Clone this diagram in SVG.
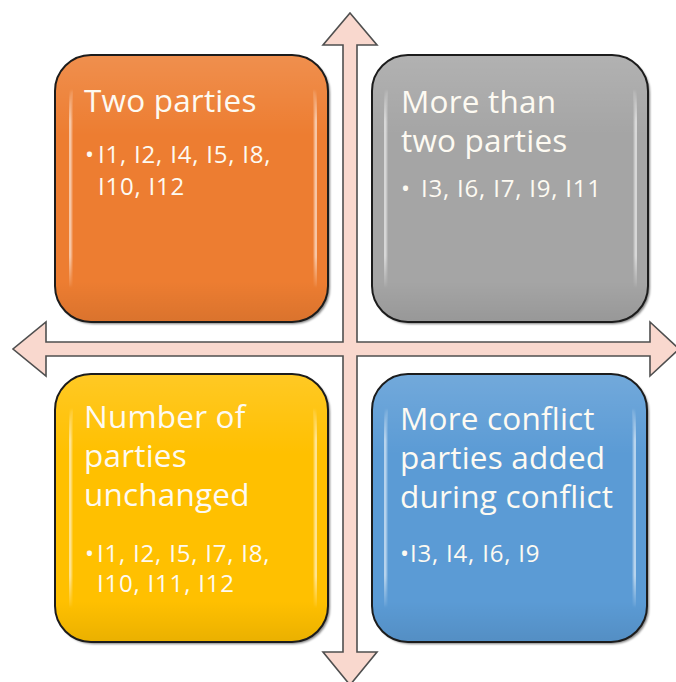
<svg xmlns="http://www.w3.org/2000/svg" width="676" height="682" viewBox="0 0 676 682">
  <defs>
    <style>
      .cross { fill: #f9d8ce; stroke: #4f4f4f; stroke-width: 1.6; stroke-linejoin: miter; }
      .shadow { fill: #000; opacity: 0.5; }
      .frame { stroke: #1c1c1c; stroke-width: 2; }
      .sheen { fill: url(#sheen); }
      .glint { fill: none; stroke: url(#glintFade); stroke-width: 3; stroke-linecap: round; filter: url(#soft); }
      .title { font-family: "Open Sans", "Noto Sans", sans-serif; font-size: 31.5px; letter-spacing: 0.2px; fill: #fdfaf2; }
      .items { font-family: "Open Sans", "Noto Sans", sans-serif; font-size: 24px; letter-spacing: 0.8px; fill: #fdfaf2; }
    </style>
    <linearGradient id="sheen" x1="0" y1="0" x2="0" y2="1">
      <stop offset="0" stop-color="#fff" stop-opacity="0.14"/>
      <stop offset="0.3" stop-color="#fff" stop-opacity="0"/>
      <stop offset="0.85" stop-color="#000" stop-opacity="0"/>
      <stop offset="1" stop-color="#000" stop-opacity="0.08"/>
    </linearGradient>
    <linearGradient id="glintFade" gradientUnits="objectBoundingBox" x1="0" y1="0" x2="0" y2="1">
      <stop offset="0" stop-color="#fff" stop-opacity="0.15"/>
      <stop offset="0.15" stop-color="#fff" stop-opacity="0.75"/>
      <stop offset="0.85" stop-color="#fff" stop-opacity="0.75"/>
      <stop offset="1" stop-color="#fff" stop-opacity="0.1"/>
    </linearGradient>
    <filter id="soft" x="-50%" y="-10%" width="200%" height="120%">
      <feGaussianBlur stdDeviation="0.9"/>
    </filter>
    <filter id="shadowBlur" x="-10%" y="-10%" width="120%" height="120%">
      <feGaussianBlur stdDeviation="1.2"/>
    </filter>
  </defs>

  <rect width="676" height="682" fill="#ffffff"/>

  <!-- four-way axis cross behind the quadrants -->
  <g id="connectors">
    <path class="cross" d="M350,13 L377,45 L357,45 L357,342 L650,342 L650,322 L679,349 L650,376 L650,356 L357,356 L357,652 L377,652 L350,685 L323,652 L343,652 L343,356 L46,356 L46,376 L13,349 L46,322 L46,342 L343,342 L343,45 L323,45 Z"/>
  </g>

  <!-- top-left quadrant -->
  <g id="two-parties">
    <rect class="shadow" x="57" y="57" width="273" height="267" rx="36" filter="url(#shadowBlur)"/>
    <rect class="frame" x="55" y="55" width="273" height="267" rx="36" fill="#ed7d31"/>
    <rect class="sheen" x="56" y="56" width="271" height="265" rx="35"/>
    <path class="glint" d="M72,92 Q70,100 70,120 L70,285"/>
    <path class="glint" d="M314,92 Q316,100 316,120 L316,285"/>
    <text class="title" x="84" y="112">Two parties</text>
    <text class="items" x="85" y="163">•<tspan x="98">I1, I2, I4, I5, I8,</tspan></text>
    <text class="items" x="98" y="195">I10, I12</text>
  </g>

  <!-- top-right quadrant -->
  <g id="more-than-two">
    <rect class="shadow" x="374" y="57" width="276" height="267" rx="36" filter="url(#shadowBlur)"/>
    <rect class="frame" x="372" y="55" width="276" height="267" rx="36" fill="#a5a5a5"/>
    <rect class="sheen" x="373" y="56" width="274" height="265" rx="35"/>
    <path class="glint" d="M387,92 Q385,100 385,120 L385,285"/>
    <path class="glint" d="M634,92 Q636,100 636,120 L636,285"/>
    <text class="title" x="401" y="113">More than</text>
    <text class="title" x="401" y="152">two parties</text>
    <text class="items" x="401" y="197">•<tspan x="421">I3, I6, I7, I9, I11</tspan></text>
  </g>

  <!-- bottom-left quadrant -->
  <g id="unchanged">
    <rect class="shadow" x="57" y="376" width="273" height="268" rx="36" filter="url(#shadowBlur)"/>
    <rect class="frame" x="55" y="374" width="273" height="268" rx="36" fill="#ffc000"/>
    <rect class="sheen" x="56" y="375" width="271" height="266" rx="35"/>
    <path class="glint" d="M72,411 Q70,419 70,439 L70,605"/>
    <path class="glint" d="M314,411 Q316,419 316,439 L316,605"/>
    <text class="title" x="84" y="428">Number of</text>
    <text class="title" x="84" y="467">parties</text>
    <text class="title" x="84" y="506">unchanged</text>
    <text class="items" x="85" y="562">•<tspan x="97">I1, I2, I5, I7, I8,</tspan></text>
    <text class="items" x="97" y="592">I10, I11, I12</text>
  </g>

  <!-- bottom-right quadrant -->
  <g id="parties-added">
    <rect class="shadow" x="374" y="376" width="275" height="268" rx="36" filter="url(#shadowBlur)"/>
    <rect class="frame" x="372" y="374" width="275" height="268" rx="36" fill="#5b9bd5"/>
    <rect class="sheen" x="373" y="375" width="273" height="266" rx="35"/>
    <path class="glint" d="M387,411 Q385,419 385,439 L385,605"/>
    <path class="glint" d="M633,411 Q635,419 635,439 L635,605"/>
    <text class="title" x="400" y="430">More conflict</text>
    <text class="title" x="400" y="469">parties added</text>
    <text class="title" x="400" y="508">during conflict</text>
    <text class="items" x="400" y="562">•<tspan x="410">I3, I4, I6, I9</tspan></text>
  </g>
</svg>
